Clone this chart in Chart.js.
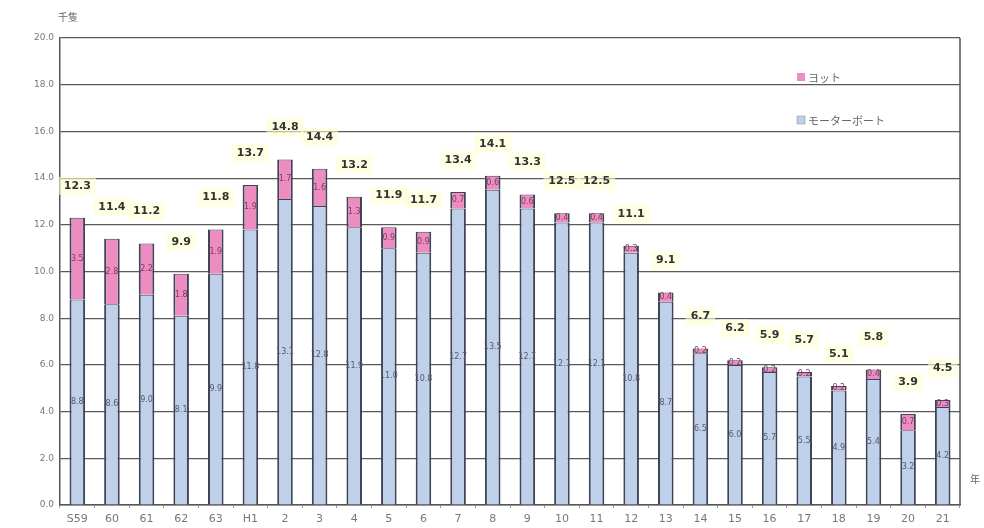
<!DOCTYPE html>
<html>
<head>
<meta charset="utf-8">
<script src="https://cdn.jsdelivr.net/npm/chart.js@4.4.1/dist/chart.umd.min.js"></script>
<style>
    html, body { margin: 0; padding: 0; background: #ffffff; }
    #wrap { width: 984px; height: 528px; position: relative; }
</style>
</head>
<body>
<div id="wrap"><canvas id="myChart"></canvas></div>
<script>
// 年（昭和59年〜平成21年）
const years = ['S59', '60', '61', '62', '63', 'H1', '2', '3', '4', '5', '6', '7', '8', '9', '10', '11', '12', '13', '14', '15', '16', '17', '18', '19', '20', '21'];
// モーターボート（千隻）
const motorboat = [8.8, 8.6, 9.0, 8.1, 9.9, 11.8, 13.1, 12.8, 11.9, 11.0, 10.8, 12.7, 13.5, 12.7, 12.1, 12.1, 10.8, 8.7, 6.5, 6.0, 5.7, 5.5, 4.9, 5.4, 3.2, 4.2];
// ヨット（千隻）
const yacht = [3.5, 2.8, 2.2, 1.8, 1.9, 1.9, 1.7, 1.6, 1.3, 0.9, 0.9, 0.7, 0.6, 0.6, 0.4, 0.4, 0.3, 0.4, 0.2, 0.2, 0.2, 0.2, 0.2, 0.4, 0.7, 0.3];
const yTicks = [0, 2, 4, 6, 8, 10, 12, 14, 16, 18, 20];

const blue = '#bfd0ea';
const pink = '#ec8cc0';
const jpFont = '"Noto Sans CJK JP", "Noto Sans", sans-serif';

// Labels, legend and frame drawn on top of the chart
const labelPlugin = {
    id: 'labels',
    afterDatasetsDraw(chart) {
        const ctx = chart.ctx;
        const area = chart.chartArea;
        const mb = chart.getDatasetMeta(0).data;
        const ya = chart.getDatasetMeta(1).data;
        ctx.save();
        ctx.textAlign = 'center';
        ctx.textBaseline = 'middle';

        years.forEach((y, i) => {
            const b = mb[i];
            const p = ya[i];
            // value inside blue segment
            ctx.font = '8px "DejaVu Sans", sans-serif';
            ctx.fillStyle = '#555a66';
            ctx.fillText(motorboat[i].toFixed(1), b.x, (b.y + b.base) / 2);
            // value inside pink segment
            ctx.fillStyle = '#7a3d5c';
            ctx.fillText(yacht[i].toFixed(1), p.x, (p.y + p.base) / 2);

            // total above the bar
            const total = (motorboat[i] + yacht[i]).toFixed(1);
            ctx.font = 'bold 11px "DejaVu Sans", sans-serif';
            const w = ctx.measureText(total).width;
            const ty = p.y - 32;
            ctx.fillStyle = 'rgba(255, 255, 210, 0.6)';
            ctx.fillRect(p.x - w / 2 - 5, ty - 9, w + 10, 18);
            ctx.fillStyle = '#333333';
            ctx.fillText(total, p.x, ty);
        });

        // right border of plot area
        ctx.strokeStyle = '#555555';
        ctx.lineWidth = 1.5;
        ctx.beginPath();
        ctx.moveTo(area.right, area.top);
        ctx.lineTo(area.right, area.bottom);
        ctx.stroke();

        // legend inside plot
        ctx.textAlign = 'left';
        ctx.font = '11px ' + jpFont;
        ctx.fillStyle = pink;
        ctx.fillRect(797, 73, 8, 8);
        ctx.fillStyle = '#666666';
        ctx.fillText('ヨット', 808, 78);
        ctx.fillStyle = blue;
        ctx.fillRect(797, 116, 8, 8);
        ctx.strokeStyle = '#888888';
        ctx.lineWidth = 0.5;
        ctx.strokeRect(797, 116, 8, 8);
        ctx.fillStyle = '#666666';
        ctx.fillText('モーターボート', 808, 121);

        // unit labels
        ctx.font = '10px ' + jpFont;
        ctx.fillText('千隻', 58, 17);
        ctx.fillText('年', 970, 479);
        ctx.restore();
    }
};

const ctx = document.getElementById('myChart').getContext('2d');
new Chart(ctx, {
    type: 'bar',
    data: {
        labels: years,
        datasets: [{
            label: 'モーターボート',
            data: motorboat,
            backgroundColor: blue,
            borderColor: '#3f4458',
            borderWidth: { left: 2, right: 2, top: 1, bottom: 0 },
            borderSkipped: false
        }, {
            label: 'ヨット',
            data: yacht,
            backgroundColor: pink,
            borderColor: '#3f4458',
            borderWidth: { left: 2, right: 2, top: 1, bottom: 0 },
            borderSkipped: false
        }]
    },
    options: {
        responsive: true,
        maintainAspectRatio: false,
        animation: false,
        layout: {
            padding: { top: 38, right: 24, bottom: 0, left: 0 }
        },
        categoryPercentage: 1.0,
        barPercentage: 0.45,
        scales: {
            x: {
                stacked: true,
                grid: {
                    display: true,
                    drawOnChartArea: false,
                    tickLength: 3,
                    color: '#999999'
                },
                border: { color: '#555555', width: 1.5 },
                ticks: {
                    color: '#777777',
                    padding: 5,
                    font: { family: 'DejaVu Sans', size: 11 }
                },
                afterFit(scale) { scale.height = 23; }
            },
            y: {
                stacked: true,
                min: 0,
                max: 20,
                afterBuildTicks(scale) {
                    scale.ticks = yTicks.map(v => ({ value: v }));
                },
                ticks: {
                    color: '#777777',
                    padding: 6,
                    font: { family: 'DejaVu Sans', size: 9 },
                    callback: v => Number(v).toFixed(1)
                },
                grid: {
                    color: '#5a5a5a',
                    lineWidth: 1.2,
                    drawTicks: false
                },
                border: { color: '#555555', width: 1.5 },
                afterFit(scale) { scale.width = 60; }
            }
        },
        plugins: {
            legend: { display: false },
            tooltip: { enabled: false }
        }
    },
    plugins: [labelPlugin]
});
</script>
</body>
</html>
